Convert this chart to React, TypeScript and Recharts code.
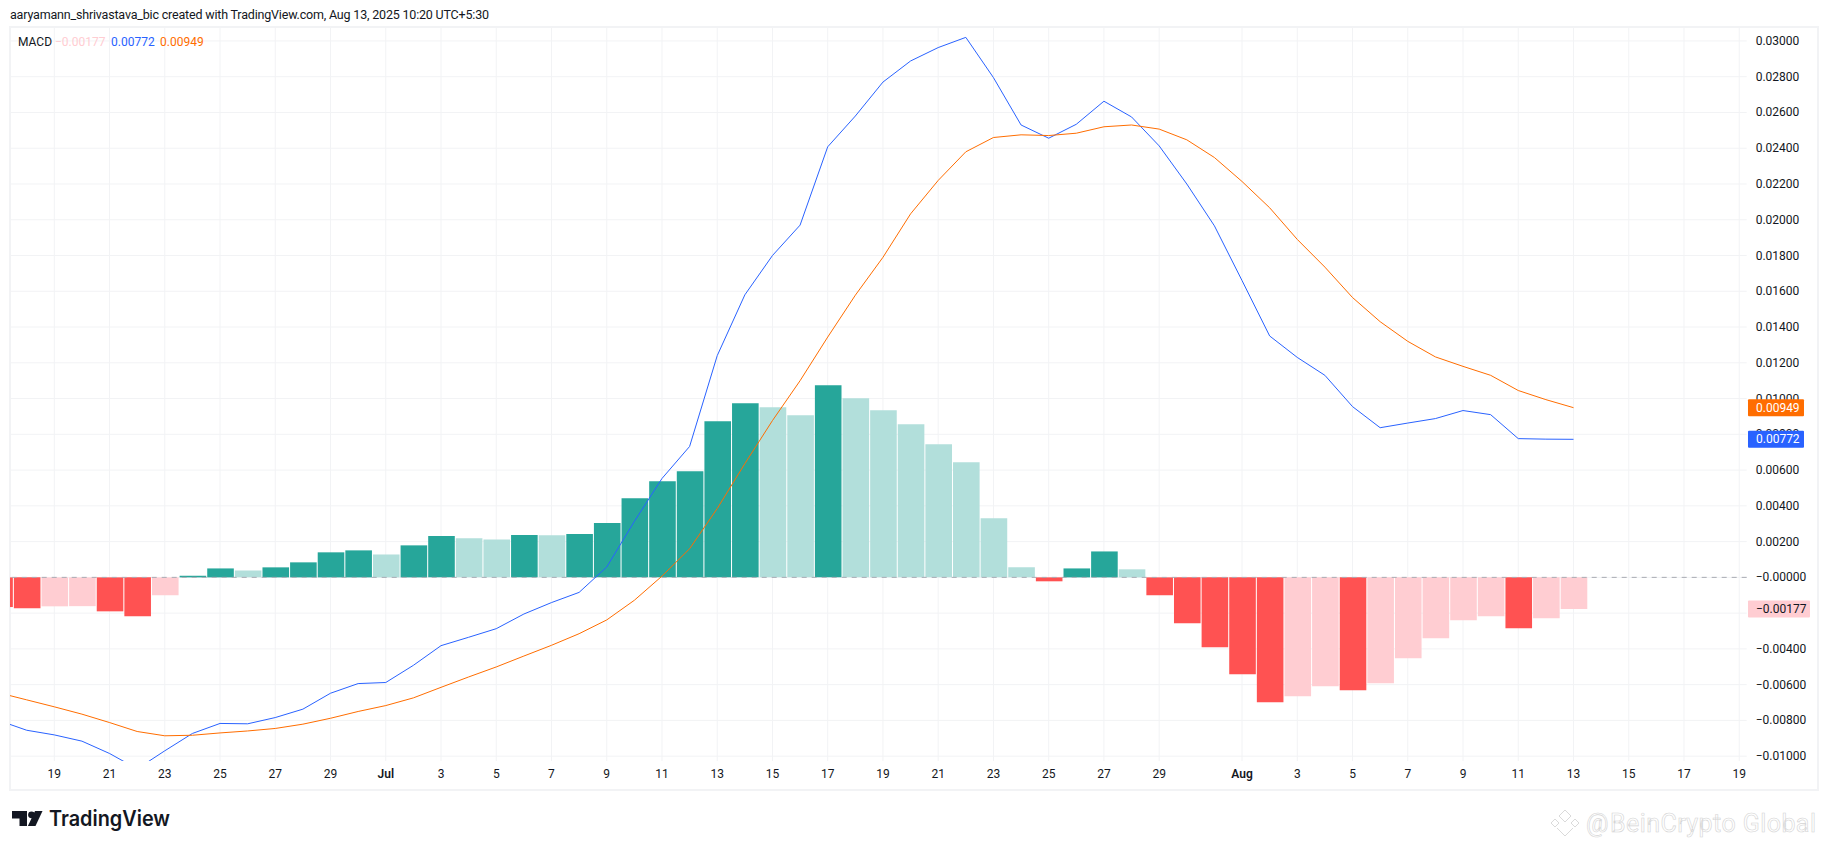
import React from 'react';
import { ComposedChart, Bar, Line, XAxis, YAxis, CartesianGrid, ReferenceLine, Cell } from 'recharts';

// Days counted from Jun 19, daily from Jun 17 to Aug 13
const firstDay = -2;
const histogram = [-1.66,-1.73,-1.62,-1.61,-1.90,-2.18,-1.00,0.09,0.50,0.39,0.56,0.84,1.40,1.51,1.28,1.79,2.32,2.19,2.12,2.37,2.36,2.42,3.04,4.43,5.38,5.94,8.73,9.74,9.52,9.07,10.74,10.02,9.35,8.57,7.45,6.44,3.31,0.56,-0.22,0.50,1.45,0.45,-1.00,-2.57,-3.91,-5.42,-6.98,-6.65,-6.09,-6.31,-5.92,-4.53,-3.41,-2.40,-2.18,-2.85,-2.29,-1.77];
const macdLine = [-8.01,-8.55,-8.81,-9.16,-9.85,-10.71,-9.70,-8.73,-8.17,-8.19,-7.84,-7.37,-6.48,-5.94,-5.88,-4.92,-3.82,-3.35,-2.87,-2.05,-1.41,-0.84,0.58,3.13,5.53,7.32,12.4,15.8,18.0,19.7,24.08,25.8,27.7,28.88,29.63,30.2,27.95,25.3,24.56,25.34,26.63,25.75,24.13,22.0,19.66,16.6,13.5,12.3,11.3,9.55,8.37,8.63,8.88,9.33,9.1,7.76,7.73,7.72];
const signalLine = [-6.46,-6.85,-7.24,-7.65,-8.12,-8.62,-8.86,-8.83,-8.70,-8.59,-8.45,-8.21,-7.88,-7.50,-7.17,-6.74,-6.15,-5.57,-5.01,-4.4,-3.8,-3.15,-2.38,-1.28,0.07,1.60,3.85,6.36,8.77,11.0,13.44,15.78,17.9,20.33,22.2,23.8,24.6,24.75,24.71,24.84,25.2,25.3,25.07,24.47,23.48,22.14,20.67,18.9,17.35,15.65,14.3,13.2,12.33,11.8,11.3,10.45,9.94,9.49];

const xTickDays = [0,2,4,6,8,10,12,14,16,18,20,22,24,26,28,30,32,34,36,38,40,43,45,47,49,51,53,55,57,59,61];
const xTickLabels = ['19','21','23','25','27','29','Jul','3','5','7','9','11','13','15','17','19','21','23','25','27','29','Aug','3','5','7','9','11','13','15','17','19'];
const yTicks = [-10,-8,-6,-4,-2,0,2,4,6,8,10,12,14,16,18,20,22,24,26,28,30];

const lastHistogram = -1.77;
const lastMacd = 7.72;
const lastSignal = 9.49;
const tagValues = [lastSignal, lastMacd, lastHistogram];

const GREEN = '#26A69A';
const GREEN_LIGHT = '#B2DFDB';
const RED = '#FF5252';
const RED_LIGHT = '#FFCDD2';
const BLUE = '#2962FF';
const ORANGE = '#FF6D00';
const GRID = '#F2F3F5';
const TEXT = '#131722';
const FONT = 'Roboto, sans-serif';
const AXIS_WIDTH = 68.3;
const tagStyles = [
  { bg: ORANGE, fg: '#fff', w: 56 },
  { bg: BLUE, fg: '#fff', w: 56 },
  { bg: RED_LIGHT, fg: TEXT, w: 62 },
];

const rows = histogram.map((h, i) => ({ day: firstDay + i, hist: h, macd: macdLine[i], signal: signalLine[i] }));

const barColor = (i: number) => {
  const h = histogram[i];
  const prev = i > 0 ? histogram[i - 1] : h + 1;
  if (h >= 0) return h >= prev ? GREEN : GREEN_LIGHT;
  return h <= prev ? RED : RED_LIGHT;
};

const fmt = (v: number) => {
  const s = Math.abs(v / 1000).toFixed(5);
  return v <= 0 ? '\u2212' + s : s;
};

const XTick = (p: any) => {
  const label = xTickLabels[xTickDays.indexOf(p.payload.value)];
  const bold = label === 'Jul' || label === 'Aug';
  return <text x={p.x} y={p.y} textAnchor="middle" dominantBaseline="central" fontFamily={FONT} fontSize={12} fontWeight={bold ? 600 : 400} fill={TEXT}>{label}</text>;
};
const YTick = (p: any) => (
  <text x={p.x} y={p.y} textAnchor="start" dominantBaseline="central" fontFamily={FONT} fontSize={12} fill={TEXT}>{fmt(p.payload.value)}</text>
);
const TagTick = (p: any) => {
  const value = p.payload.value;
  const style = tagStyles[tagValues.indexOf(value)] || tagStyles[0];
  const left = p.x - AXIS_WIDTH;
  return (
    <g>
      <rect x={left + 1.3} y={p.y - 8.5} width={style.w} height={17} rx={1} fill={style.bg} />
      <text x={left + 9.3} y={p.y} dominantBaseline="central" fontFamily={FONT} fontSize={12} fill={style.fg}>{fmt(value)}</text>
    </g>
  );
};

export default function App() {
  return (
    <div style={{ position: 'fixed', left: 0, top: 0, width: 1825, height: 849, background: '#fff', overflow: 'hidden' }}>
      <div style={{ position: 'absolute', left: 9, top: 26, width: 1806, height: 761, border: `2px solid ${GRID}`, boxSizing: 'content-box' }} />
      <ComposedChart width={1825} height={849} data={rows} margin={{ top: 27, right: 10, bottom: 60, left: 10 }} style={{ position: 'absolute', left: 0, top: 0 }}>
        <CartesianGrid stroke={GRID} strokeWidth={1} horizontalValues={yTicks} verticalValues={xTickDays} />
        <XAxis dataKey="day" type="number" domain={[-1.604, 61.27]} allowDataOverflow ticks={xTickDays} interval={0} height={28} axisLine={false} tickLine={false} tick={XTick} tickSize={0} tickMargin={13} />
        <YAxis orientation="right" type="number" domain={[-10.27, 30.78]} allowDataOverflow ticks={yTicks} interval={0} width={AXIS_WIDTH} axisLine={false} tickLine={false} tick={YTick} tickSize={0} tickMargin={9} />
        <YAxis yAxisId="tags" orientation="right" type="number" domain={[-10.27, 30.78]} allowDataOverflow ticks={tagValues} interval={0} width={0.01} axisLine={false} tickLine={false} tick={TagTick} tickSize={0} tickMargin={0} />
        <ReferenceLine y={0} stroke="#A8ABB3" strokeDasharray="5 5" strokeWidth={1} />
        <Bar dataKey="hist" barSize={26.6} isAnimationActive={false}>
          {rows.map((r, i) => <Cell key={r.day} fill={barColor(i)} />)}
        </Bar>
        <Line dataKey="macd" type="linear" stroke={BLUE} strokeWidth={1} dot={false} isAnimationActive={false} />
        <Line dataKey="signal" type="linear" stroke={ORANGE} strokeWidth={1} dot={false} isAnimationActive={false} />
      </ComposedChart>
      <svg width={1825} height={849} style={{ position: 'absolute', left: 0, top: 0, pointerEvents: 'none' }}>
        <text x={10} y={14.5} dominantBaseline="central" fontFamily={FONT} fontSize={12.5} fill={TEXT} textLength={479}>aaryamann_shrivastava_bic created with TradingView.com, Aug 13, 2025 10:20 UTC+5:30</text>
        <g fontFamily={FONT} fontSize={12}>
          <text x={18} y={41.5} fill={TEXT} dominantBaseline="central">MACD</text>
          <text x={55} y={41.5} fill={RED_LIGHT} dominantBaseline="central">{fmt(lastHistogram)}</text>
          <text x={111} y={41.5} fill={BLUE} dominantBaseline="central">{fmt(lastMacd)}</text>
          <text x={160} y={41.5} fill={ORANGE} dominantBaseline="central">{fmt(lastSignal)}</text>
        </g>
        <g fill="#131722">
          <path d="M12 811 h15 v15 h-7.5 v-7.5 h-7.5 z" />
          <circle cx={31.5} cy={814.8} r={3.4} />
          <path d="M35 811 h7.5 l-7 15 h-7.6 z" />
          <text x={49} y={826} fontFamily="Inter, sans-serif" fontWeight={600} fontSize={21} textLength={121} lengthAdjust="spacingAndGlyphs">TradingView</text>
        </g>
        <g fill="none" stroke="#DADADA" strokeWidth={1}>
          <path d="M1565 810 l6 6 l-6 6 l-6 -6 z" />
          <path d="M1555 819 l4 4 l-4 4 l-4 -4 z" />
          <path d="M1575 819 l4 4 l-4 4 l-4 -4 z" />
          <path d="M1557 828 l8 8 l8 -8" />
          <text x={1586} y={832} fontFamily={FONT} fontSize={25} stroke="#D4D4D4" strokeWidth={0.6} fill="#fff">@</text>
          <text x={1610} y={832} fontFamily={FONT} fontSize={25} stroke="#D4D4D4" strokeWidth={0.6} fill="#fff" textLength={206}>BeinCrypto Global</text>
        </g>
      </svg>
    </div>
  );
}
